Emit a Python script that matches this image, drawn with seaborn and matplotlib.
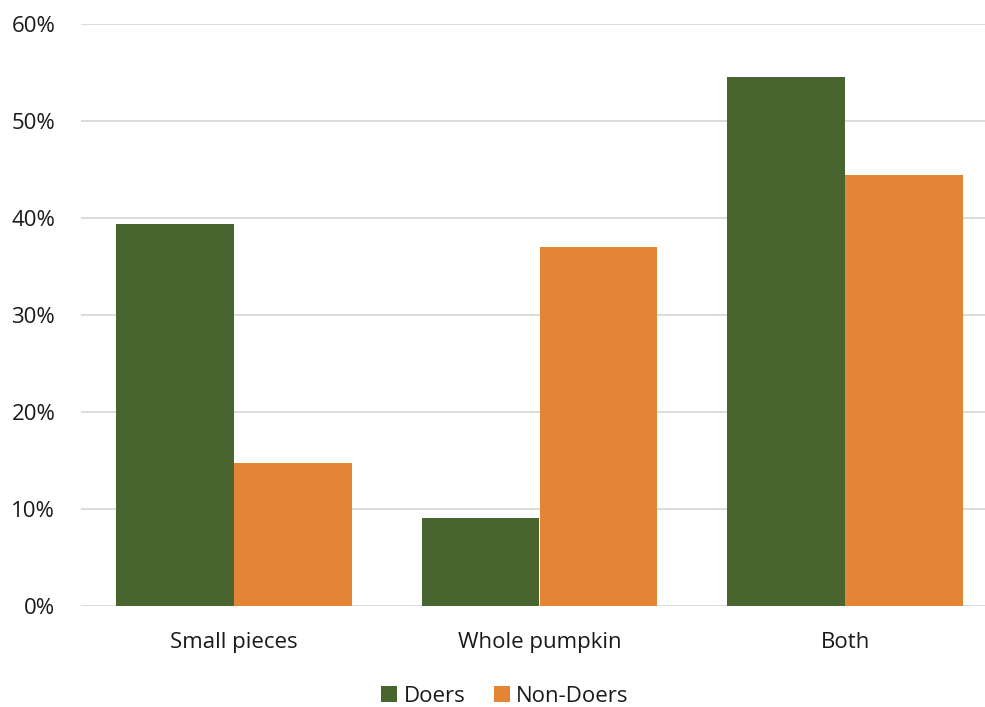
import matplotlib
matplotlib.use("Agg")
import matplotlib.pyplot as plt
import seaborn as sns
import pandas as pd
from matplotlib.ticker import PercentFormatter, MultipleLocator
from matplotlib.patches import Patch

categories = ["Small pieces", "Whole pumpkin", "Both"]
doers = [39.4, 9.1, 54.5]
non_doers = [14.7, 37.0, 44.4]
series = ["Doers", "Non-Doers"]
colors = ["#49652f", "#e38534"]

df = pd.DataFrame({
    "category": categories * 2,
    "group": [series[0]] * 3 + [series[1]] * 3,
    "value": doers + non_doers,
})

sns.set_theme(style="white")
plt.rcParams["font.family"] = ["Open Sans", "DejaVu Sans"]

fig = plt.figure(figsize=(9.85, 7.07), dpi=100)
ax = fig.add_axes([81 / 985, 1 - 606 / 707, 917 / 985, (606 - 23.7) / 707])

sns.barplot(data=df, x="category", y="value", hue="group", order=categories,
            hue_order=series, palette=colors, width=0.772, saturation=1,
            linewidth=0, ax=ax, legend=False, errorbar=None)

ax.set_ylim(0, 60)
ax.set_xlim(-0.5, 2.5)
ax.yaxis.set_major_locator(MultipleLocator(10))
ax.yaxis.set_major_formatter(PercentFormatter(decimals=0))
ax.grid(axis="y", color="#d9d9d9", linewidth=1.3)
ax.set_axisbelow(True)
for s in ax.spines.values():
    s.set_visible(False)
ax.set_xlabel("")
ax.set_ylabel("")
ax.tick_params(axis="both", length=0, labelsize=16, colors="#1a1a1a")
ax.tick_params(axis="y", pad=18.5)
ax.tick_params(axis="x", pad=19)

handles = [Patch(facecolor=c, edgecolor="none") for c in colors]
fig.legend(handles, series, loc="center", bbox_to_anchor=(505 / 985, 1 - 696 / 707),
           ncol=2, frameon=False, fontsize=16, handlelength=0.7, handleheight=0.7,
           handletextpad=0.3, columnspacing=1.3, labelcolor="#1a1a1a")

fig.savefig("out.png", dpi=100)
